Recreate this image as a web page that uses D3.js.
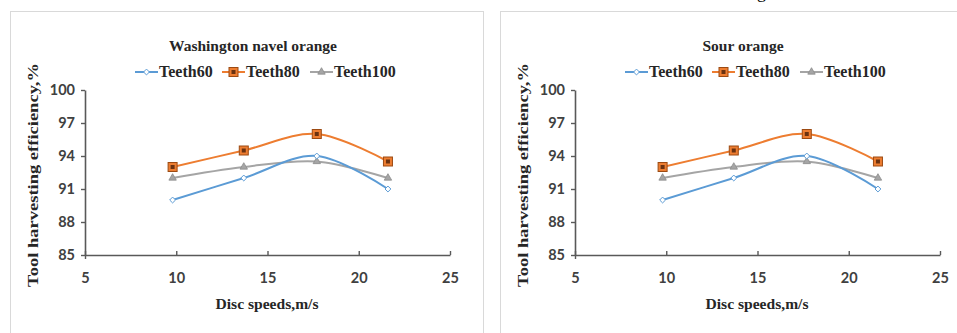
<!DOCTYPE html>
<html>
<head>
<meta charset="utf-8">
<script src="https://cdn.jsdelivr.net/npm/d3@7"></script>
<style>
body { margin: 0; background: #fff; }
svg { display: block; }
</style>
</head>
<body>
<div class="demo"></div>
<script>
// data
var speeds = [9.8, 13.7, 17.7, 21.6];
var teeth60 = [90, 92, 94, 91];
var teeth80 = [93, 94.5, 96, 93.5];
var teeth100 = [92, 93, 93.5, 92];
var seriesNames = ['Teeth60', 'Teeth80', 'Teeth100'];
var panelTitles = ['Washington navel orange', 'Sour orange'];
var xTicks = [5, 10, 15, 20, 25];
var yTicks = [85, 88, 91, 94, 97, 100];

var W = 957, H = 333;
var svg = d3.select('.demo').append('svg').attr('width', W).attr('height', H);

var colors = ['#5b9bd5', '#ed7d31', '#a5a5a5'];
var allSeries = [teeth60, teeth80, teeth100];

// caption fragment cut off at the top of the picture
svg.append('text').attr('x', 757).attr('y', -2)
  .attr('font-family', 'Liberation Serif').attr('font-size', 18).text('g');

function drawMarker(g, i, x, y) {
  if (i == 0) {
    g.append('path').attr('d', d3.symbol(d3.symbolDiamond2, 22)())
      .attr('transform', 'translate(' + x + ',' + y + ')')
      .attr('fill', '#fff').attr('stroke', colors[0]).attr('stroke-width', 1);
  } else if (i == 1) {
    g.append('rect').attr('x', x - 4.5).attr('y', y - 4.5).attr('width', 9).attr('height', 9)
      .attr('fill', '#ed7d31').attr('stroke', '#9c4a12').attr('stroke-width', 1);
    g.append('rect').attr('x', x - 2).attr('y', y - 2).attr('width', 4).attr('height', 4)
      .attr('fill', '#6b3210');
  } else {
    g.append('path').attr('d', d3.symbol(d3.symbolTriangle, 24)())
      .attr('transform', 'translate(' + x + ',' + y + ')')
      .attr('fill', '#a5a5a5').attr('stroke', '#8c8c8c').attr('stroke-width', 0.8);
  }
}

function drawPanel(ox, title) {
  var g = svg.append('g').attr('transform', 'translate(' + ox + ',0)');
  // panel border
  g.append('rect').attr('x', 10.5).attr('y', 11.5).attr('width', ox == 0 ? 473 : 480).attr('height', 340)
    .attr('fill', 'none').attr('stroke', '#d9d9d9').attr('stroke-width', 1);

  var xScale = d3.scaleLinear().domain([5, 25]).range([85, 450]);
  var yScale = d3.scaleLinear().domain([85, 100]).range([255, 90]);

  var yAxis = g.append('g').attr('transform', 'translate(85,0)')
    .call(d3.axisLeft(yScale).tickValues(yTicks).tickSize(4).tickPadding(6).tickSizeOuter(0));
  var xAxis = g.append('g').attr('transform', 'translate(0,255)')
    .call(d3.axisBottom(xScale).tickValues(xTicks).tickSize(-4).tickPadding(16).tickSizeOuter(0));
  [xAxis, yAxis].forEach(function (a) {
    a.select('.domain').attr('stroke', '#595959').attr('stroke-width', 1.6);
    a.selectAll('.tick line').attr('stroke', '#595959').attr('stroke-width', 1.4);
    a.selectAll('.tick text').attr('fill', '#404040')
      .attr('font-family', 'Lato').attr('font-weight', 'bold').attr('font-size', 14.5);
  });
  xAxis.selectAll('.tick text').attr('dy', '0.35em').attr('y', 23);
  // x tick at 5 crosses the axis
  xAxis.select('.tick line').attr('y1', 4);

  var line = d3.line()
    .x(function (d, i) { return xScale(speeds[i]); })
    .y(function (d) { return yScale(d); })
    .curve(d3.curveCatmullRom.alpha(0));

  [2, 0, 1].forEach(function (i) {
    g.append('path').datum(allSeries[i]).attr('d', line)
      .attr('fill', 'none').attr('stroke', colors[i]).attr('stroke-width', 2);
  });
  [2, 0, 1].forEach(function (i) {
    allSeries[i].forEach(function (v, j) {
      drawMarker(g, i, xScale(speeds[j]), yScale(v));
    });
  });

  // title
  g.append('text').attr('x', 253).attr('y', 51).attr('text-anchor', 'middle')
    .attr('font-family', 'Liberation Serif').attr('font-weight', 'bold').attr('font-size', 15.5)
    .attr('fill', '#262626').text(title);

  // legend
  var legX = [135, 222, 310];
  seriesNames.forEach(function (name, i) {
    var lx = legX[i];
    g.append('line').attr('x1', lx).attr('x2', lx + 23).attr('y1', 72).attr('y2', 72)
      .attr('stroke', colors[i]).attr('stroke-width', 2);
    drawMarker(g, i, lx + 11.5, 72);
    g.append('text').attr('x', lx + 24).attr('y', 77)
      .attr('font-family', 'Liberation Serif').attr('font-weight', 'bold').attr('font-size', 16)
      .attr('fill', '#262626').text(name);
  });

  // axis titles
  g.append('text').attr('transform', 'translate(38,175) rotate(-90)').attr('text-anchor', 'middle')
    .attr('font-family', 'Liberation Serif').attr('font-weight', 'bold').attr('font-size', 15)
    .attr('textLength', 224).attr('lengthAdjust', 'spacingAndGlyphs')
    .attr('fill', '#262626').text('Tool harvesting efficiency,%');
  g.append('text').attr('x', 267).attr('y', 309).attr('text-anchor', 'middle')
    .attr('font-family', 'Liberation Serif').attr('font-weight', 'bold').attr('font-size', 15)
    .attr('textLength', 103).attr('lengthAdjust', 'spacingAndGlyphs')
    .attr('fill', '#262626').text('Disc speeds,m/s');
}

drawPanel(0, panelTitles[0]);
drawPanel(490, panelTitles[1]);
</script>
</body>
</html>
